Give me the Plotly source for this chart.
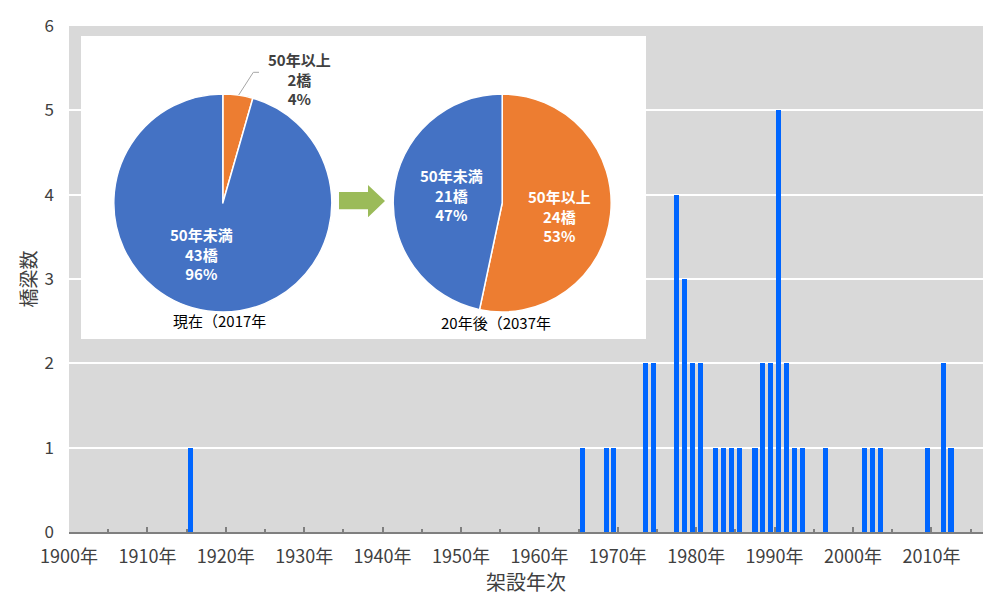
import plotly.graph_objects as go

# Bridges by construction year
years = [1915, 1965, 1968, 1969, 1973, 1974, 1977, 1978, 1979, 1980,
         1982, 1983, 1984, 1985, 1987, 1988, 1989, 1990, 1991, 1992,
         1993, 1996, 2001, 2002, 2003, 2009, 2011, 2012]
counts = [1, 1, 1, 1, 2, 2, 4, 3, 2, 2,
          1, 1, 1, 1, 1, 2, 2, 5, 2, 1,
          1, 1, 1, 1, 1, 1, 2, 1]

# Age split of the bridge stock
age_labels = ["50年以上", "50年未満"]
now_counts = [2, 43]
later_counts = [24, 21]
captions = ["現在（2017年", "20年後（2037年"]

FONT = "Noto Sans CJK JP"
W, H = 983, 596
L, R, T, B = 69, 0, 26, 64
PW, PH = W - L - R, H - T - B
PX_PER_YEAR = 7.84
X0 = 1900
YMAX = 6


def fx(px):
    return (px - L) / PW


def fy(py):
    return (H - B - py) / PH


def dx(px):
    return X0 + (px - L) / PX_PER_YEAR


def dy(py):
    return fy(py) * YMAX


def pie_domain(cx, cy, r):
    return dict(x=[fx(cx - r), fx(cx + r)], y=[fy(cy + r), fy(cy - r)])


def label_text(i, vals):
    pct = round(100 * vals[i] / sum(vals))
    return f"<b>{age_labels[i]}<br>{vals[i]}橋<br>{pct}%</b>"


fig = go.Figure()

fig.add_trace(go.Bar(
    x=years, y=counts,
    width=0.64, offset=0.18,
    marker=dict(color="#0066ff", line=dict(width=0)),
    showlegend=False,
))

# white inset panel behind the pies (sits over the gridlines)
px0, px1, py0, py1 = 81, 646, 36, 339
fig.add_trace(go.Scatter(
    x=[dx(px0), dx(px1), dx(px1), dx(px0), dx(px0)],
    y=[dy(py1), dy(py1), dy(py0), dy(py0), dy(py1)],
    mode="lines", fill="toself", fillcolor="white",
    line=dict(width=0, color="white"),
    hoverinfo="skip", showlegend=False,
))

pie_colors = ["#ed7d31", "#4472c4"]
for vals, dom in [(now_counts, pie_domain(222.8, 203, 109)),
                  (later_counts, pie_domain(502.2, 203, 109))]:
    fig.add_trace(go.Pie(
        labels=age_labels, values=vals,
        domain=dom, sort=False, direction="clockwise", rotation=0,
        marker=dict(colors=pie_colors, line=dict(color="white", width=1.5)),
        textinfo="none", hoverinfo="label+value+percent",
        showlegend=False,
    ))

annotations = []
# slice labels
for txt, (px, py), col in [
    (label_text(0, now_counts), (299, 79), "#404040"),
    (label_text(1, now_counts), (201, 254), "white"),
    (label_text(1, later_counts), (451, 195), "white"),
    (label_text(0, later_counts), (559, 216), "white"),
]:
    annotations.append(dict(
        x=fx(px), y=fy(py), xref="paper", yref="paper", text=txt,
        showarrow=False, xanchor="center", yanchor="middle",
        font=dict(family=FONT, size=15, color=col),
    ))
# pie captions
for txt, (px, py) in zip(captions, [(219, 320), (496, 323)]):
    annotations.append(dict(
        x=fx(px), y=fy(py), xref="paper", yref="paper", text=txt,
        showarrow=False, xanchor="center", yanchor="middle",
        font=dict(family=FONT, size=15, color="black"),
    ))


def path(points):
    return "M " + " L ".join(f"{fx(a):.5f},{fy(b):.5f}" for a, b in points)


shapes = [
    # arrow between the pies
    dict(type="path", xref="paper", yref="paper", layer="above",
         path=path([(339, 192), (368, 192), (368, 185), (385, 201),
                    (368, 217.3), (368, 209.3), (339, 209.3)]) + " Z",
         fillcolor="#9bbb59", line=dict(width=0)),
    # leader line for the small slice label
    dict(type="path", xref="paper", yref="paper", layer="above",
         path=path([(238.7, 95), (253.3, 72.3), (259, 72.3)]),
         line=dict(color="#a6a6a6", width=1)),
]

fig.update_layout(
    width=W, height=H,
    margin=dict(l=L, r=R, t=T, b=B, pad=0),
    paper_bgcolor="white", plot_bgcolor="#d9d9d9",
    font=dict(family=FONT, color="#404040"),
    bargap=0,
    annotations=annotations,
    shapes=shapes,
    xaxis=dict(
        range=[X0, X0 + PW / PX_PER_YEAR],
        tick0=X0, dtick=10, ticksuffix="年",
        ticks="inside", ticklen=5, tickwidth=2, tickcolor="#7f7f7f",
        minor=dict(dtick=5, tick0=X0, ticks="inside", ticklen=3,
                   tickwidth=2, tickcolor="#7f7f7f", showgrid=False),
        showgrid=False, zeroline=False,
        showline=True, linecolor="#7f7f7f", linewidth=2,
        ticklabelstandoff=7,
        tickfont=dict(family=FONT, size=18, color="#404040"),
        title=dict(text="架設年次", standoff=4,
                   font=dict(family=FONT, size=20, color="#404040")),
    ),
    yaxis=dict(
        range=[0, YMAX], dtick=1,
        showgrid=True, gridcolor="white", gridwidth=2,
        zeroline=False, showline=False, ticks="",
        ticklabelstandoff=14,
        tickfont=dict(family=FONT, size=17, color="#404040"),
        title=dict(text="橋梁数", standoff=2,
                   font=dict(family=FONT, size=19, color="#404040")),
    ),
)

fig.write_html("out.html")
